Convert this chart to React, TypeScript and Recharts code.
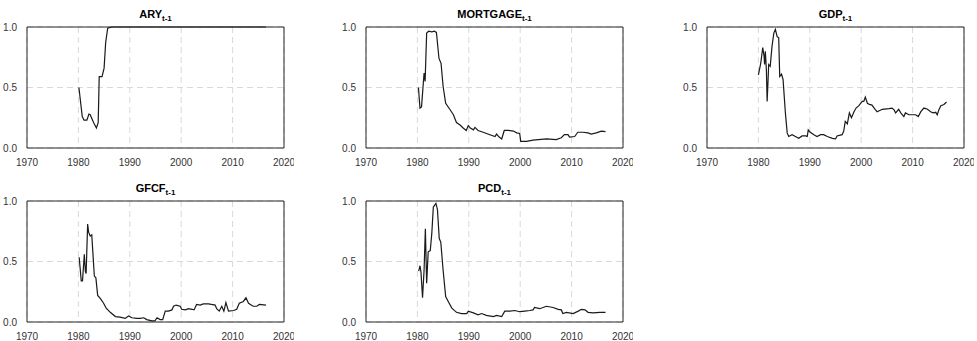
import { LineChart, Line, XAxis, YAxis, CartesianGrid, ReferenceArea } from "recharts"

// [year, value]
const ary: [number, number][] = [
  [1980.1, 0.5], [1980.75, 0.26], [1981.1, 0.23], [1981.65, 0.23], [1982.05, 0.28],
  [1982.3, 0.275], [1982.95, 0.21], [1983.5, 0.165], [1983.85, 0.21], [1984.05, 0.59],
  [1984.6, 0.59], [1985.0, 0.66], [1985.3, 0.87], [1985.7, 0.99], [1986.45, 1.0],
  [2016.5, 1.0],
]

const mortgage: [number, number][] = [
  [1980.2, 0.5], [1980.5, 0.33], [1980.8, 0.34], [1981.3, 0.62], [1981.5, 0.55],
  [1981.8, 0.95], [1982.2, 0.965], [1982.8, 0.96], [1983.3, 0.965], [1983.7, 0.955],
  [1984.2, 0.74], [1984.6, 0.7], [1985.0, 0.51], [1985.5, 0.37], [1986.3, 0.32],
  [1987.0, 0.275], [1987.6, 0.21], [1988.3, 0.19], [1988.9, 0.165], [1989.5, 0.145],
  [1989.9, 0.185], [1990.3, 0.165], [1990.9, 0.15], [1991.2, 0.17], [1991.8, 0.145],
  [1992.8, 0.13], [1994.1, 0.11], [1995.1, 0.095], [1995.4, 0.115], [1995.9, 0.09],
  [1996.4, 0.075], [1996.9, 0.145], [1997.7, 0.145], [1998.7, 0.14], [1999.3, 0.125],
  [1999.9, 0.12], [2000.1, 0.055], [2001.2, 0.055], [2002.5, 0.065], [2005.1, 0.075],
  [2007.0, 0.07], [2008.0, 0.085], [2008.6, 0.11], [2009.3, 0.11], [2009.6, 0.09],
  [2010.6, 0.095], [2011.2, 0.13], [2012.2, 0.13], [2013.2, 0.125], [2013.8, 0.115],
  [2014.8, 0.125], [2015.8, 0.14], [2016.6, 0.135],
]

const gdp: [number, number][] = [
  [1980.0, 0.605], [1980.45, 0.7], [1980.85, 0.83], [1981.1, 0.76], [1981.2, 0.69],
  [1981.35, 0.8], [1981.55, 0.65], [1981.7, 0.385], [1981.9, 0.58], [1982.0, 0.69],
  [1982.3, 0.675], [1982.65, 0.84], [1983.0, 0.95], [1983.3, 0.98], [1983.65, 0.92],
  [1983.95, 0.91], [1984.15, 0.59], [1984.5, 0.61], [1984.8, 0.565], [1985.25, 0.29],
  [1985.6, 0.125], [1985.9, 0.095], [1986.55, 0.11], [1987.2, 0.095], [1987.85, 0.08],
  [1988.5, 0.1], [1989.2, 0.1], [1989.5, 0.095], [1989.7, 0.15], [1990.1, 0.13],
  [1990.8, 0.11], [1991.4, 0.095], [1992.1, 0.11], [1992.7, 0.11], [1993.4, 0.095],
  [1994.4, 0.08], [1995.0, 0.075], [1995.3, 0.1], [1996.3, 0.11], [1996.6, 0.14],
  [1996.9, 0.22], [1997.3, 0.2], [1997.7, 0.29], [1998.1, 0.25], [1998.6, 0.3],
  [1999.0, 0.33], [1999.55, 0.35], [2000.2, 0.385], [2000.5, 0.385], [2000.8, 0.42],
  [2001.2, 0.37], [2001.6, 0.36], [2002.1, 0.355], [2002.7, 0.32], [2003.1, 0.3],
  [2004.1, 0.32], [2005.4, 0.325], [2006.0, 0.33], [2006.4, 0.315], [2006.7, 0.29],
  [2007.3, 0.32], [2007.7, 0.29], [2008.3, 0.26], [2008.6, 0.29], [2009.3, 0.275],
  [2009.9, 0.275], [2010.6, 0.275], [2011.1, 0.26], [2011.6, 0.3], [2012.2, 0.33],
  [2012.9, 0.32], [2013.5, 0.3], [2014.0, 0.29], [2014.5, 0.295], [2014.8, 0.275],
  [2015.1, 0.315], [2015.5, 0.35], [2016.1, 0.36], [2016.6, 0.38],
]

const gfcf: [number, number][] = [
  [1980.15, 0.535], [1980.35, 0.44], [1980.55, 0.34], [1980.8, 0.34], [1981.15, 0.56],
  [1981.35, 0.42], [1981.5, 0.4], [1981.8, 0.81], [1982.0, 0.74], [1982.3, 0.71],
  [1982.6, 0.72], [1983.1, 0.38], [1983.4, 0.365], [1983.75, 0.22], [1984.25, 0.195],
  [1984.9, 0.155], [1985.4, 0.115], [1986.2, 0.08], [1987.2, 0.045], [1988.1, 0.04],
  [1989.1, 0.03], [1989.75, 0.05], [1990.4, 0.035], [1991.4, 0.03], [1992.0, 0.03],
  [1992.7, 0.035], [1993.3, 0.02], [1994.3, 0.01], [1994.9, 0.01], [1995.3, 0.035],
  [1995.9, 0.02], [1996.4, 0.02], [1996.9, 0.09], [1997.5, 0.09], [1998.2, 0.1],
  [1998.5, 0.13], [1999.0, 0.14], [1999.8, 0.13], [2000.1, 0.105], [2000.8, 0.1],
  [2001.4, 0.11], [2002.1, 0.105], [2002.5, 0.1], [2003.0, 0.145], [2003.7, 0.14],
  [2004.3, 0.15], [2005.3, 0.15], [2005.9, 0.145], [2006.6, 0.14], [2006.9, 0.11],
  [2007.4, 0.09], [2007.9, 0.13], [2008.3, 0.09], [2008.7, 0.16], [2009.2, 0.09],
  [2010.2, 0.095], [2010.8, 0.105], [2011.3, 0.155], [2012.1, 0.17], [2012.6, 0.2],
  [2013.1, 0.155], [2014.0, 0.13], [2014.7, 0.13], [2015.2, 0.145], [2016.5, 0.14],
]

const pcd: [number, number][] = [
  [1980.25, 0.42], [1980.5, 0.465], [1980.7, 0.41], [1981.0, 0.2], [1981.3, 0.43],
  [1981.55, 0.77], [1981.8, 0.32], [1982.1, 0.58], [1982.5, 0.59], [1982.8, 0.73],
  [1983.1, 0.95], [1983.6, 0.98], [1983.9, 0.93], [1984.25, 0.69], [1984.55, 0.66],
  [1985.0, 0.43], [1985.5, 0.21], [1986.0, 0.17], [1986.7, 0.115], [1987.6, 0.08],
  [1988.6, 0.07], [1989.6, 0.07], [1989.9, 0.09], [1990.9, 0.075], [1991.8, 0.06],
  [1992.5, 0.07], [1993.4, 0.055], [1994.8, 0.045], [1995.4, 0.055], [1996.4, 0.045],
  [1997.0, 0.09], [1998.0, 0.09], [1998.95, 0.095], [1999.9, 0.085], [2000.9, 0.09],
  [2001.9, 0.095], [2002.5, 0.1], [2002.8, 0.12], [2003.8, 0.11], [2005.1, 0.13],
  [2006.4, 0.12], [2007.4, 0.105], [2008.0, 0.1], [2008.3, 0.07], [2009.0, 0.08],
  [2010.3, 0.07], [2011.3, 0.09], [2011.9, 0.105], [2012.6, 0.1], [2013.2, 0.08],
  [2014.2, 0.075], [2015.5, 0.08], [2016.6, 0.08],
]

const xTicks = [1970, 1980, 1990, 2000, 2010, 2020]
const yTicks = [0, 0.5, 1]

const font = "'Liberation Sans', Arial, sans-serif"
const tickStyle = { fontSize: 10, fill: "#333", fontFamily: font }

const plotW = 257
const plotH = 121
const axisW = 30
const topM = 27
const bottomH = 22

function Panel({ name, points, left, top }: { name: string; points: [number, number][]; left: number; top: number }) {
  const data = points.map(([year, value]) => ({ year, value }))
  return (
    <div style={{ position: "absolute", left: left - axisW, top: top - topM }}>
      <div
        style={{
          position: "absolute",
          left: axisW,
          top: 7,
          width: plotW,
          textAlign: "center",
          fontFamily: font,
          fontWeight: 700,
          fontSize: 11,
          color: "#000",
          lineHeight: "14px",
        }}
      >
        {name}
        <sub style={{ fontSize: 8 }}>t-1</sub>
      </div>
      <LineChart
        width={axisW + plotW + 10}
        height={topM + plotH + bottomH}
        data={data}
        margin={{ top: topM, right: 10, bottom: 0, left: 0 }}
      >
        <CartesianGrid stroke="#d9d9d9" strokeDasharray="6 4" />
        <XAxis
          dataKey="year"
          type="number"
          domain={[1970, 2020]}
          ticks={xTicks}
          tick={tickStyle}
          tickLine={false}
          axisLine={false}
          height={bottomH}
          tickMargin={5}
          interval={0}
        />
        <YAxis
          type="number"
          domain={[0, 1]}
          ticks={yTicks}
          tick={tickStyle}
          tickLine={false}
          axisLine={false}
          width={axisW}
          tickMargin={4}
          interval={0}
          tickFormatter={(v: number) => v.toFixed(1)}
        />
        <ReferenceArea x1={1970} x2={2020} y1={0} y2={1} fill="none" stroke="#262626" strokeWidth={1} />
        <Line
          type="linear"
          dataKey="value"
          stroke="#1a1a1a"
          strokeWidth={1.2}
          dot={false}
          isAnimationActive={false}
        />
      </LineChart>
    </div>
  )
}

export default function App() {
  return (
    <div style={{ position: "absolute", left: 0, top: 0, width: 977, height: 341, background: "#fff" }}>
      <Panel name="ARY" points={ary} left={27} top={27} />
      <Panel name="MORTGAGE" points={mortgage} left={366} top={27} />
      <Panel name="GDP" points={gdp} left={707} top={27} />
      <Panel name="GFCF" points={gfcf} left={27} top={201} />
      <Panel name="PCD" points={pcd} left={366} top={201} />
    </div>
  )
}
